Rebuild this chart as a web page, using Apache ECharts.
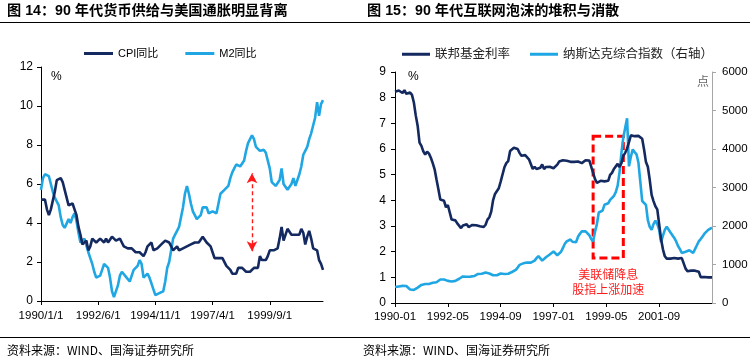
<!DOCTYPE html>
<html>
<head>
<meta charset="utf-8">
<script src="https://cdn.jsdelivr.net/npm/echarts@6/dist/echarts.min.js"></script>
<style>
html,body{margin:0;padding:0;background:#fff;}
#c{width:755px;height:359px;}
</style>
</head>
<body>
<div id="c"></div>
<script>
// ---------- data ----------
function monthLabels(y0, n, style) {
  var out = [];
  for (var i = 0; i < n; i++) {
    var y = y0 + Math.floor(i / 12), m = (i % 12) + 1;
    out.push(style === 'slash' ? (y + '/' + m + '/1') : (y + '-' + (m < 10 ? '0' + m : m)));
  }
  return out;
}
var leftCategories = monthLabels(1990, 144, 'slash');   // 1990/1/1 .. 2001/12/1
var rightCategories = monthLabels(1990, 169, 'dash');   // 1990-01 .. 2004-01

var cpiYoY = [
  5.2,5.3,5.2,4.7,4.4,4.7,4.8,5.6,6.2,6.3,6.3,6.1,
  5.7,5.3,4.9,4.9,5.0,4.7,4.4,3.8,3.4,2.9,3.0,3.1,
  2.6,2.8,3.2,3.2,3.0,3.1,3.2,3.1,3.0,3.2,3.0,2.9,
  3.3,3.2,3.1,3.2,3.2,3.0,2.8,2.8,2.7,2.8,2.7,2.7,
  2.5,2.5,2.5,2.4,2.3,2.5,2.8,2.9,3.0,2.6,2.7,2.7,
  2.8,2.9,2.9,3.1,3.2,3.0,2.8,2.6,2.5,2.8,2.6,2.5,
  2.7,2.7,2.8,2.9,2.9,2.8,3.0,2.9,3.0,3.0,3.3,3.3,
  3.0,3.0,2.8,2.5,2.2,2.3,2.2,2.2,2.2,2.1,1.8,1.7,
  1.6,1.4,1.4,1.4,1.7,1.7,1.7,1.6,1.5,1.5,1.5,1.6,
  1.7,1.6,1.7,2.3,2.1,2.0,2.1,2.3,2.6,2.6,2.6,2.7,
  2.7,3.2,3.8,3.1,3.2,3.7,3.7,3.4,3.5,3.4,3.4,3.4,
  3.7,3.5,2.9,3.3,3.6,3.2,2.7,2.7,2.6,2.1,1.9,1.6
];
var m2YoY = [
  5.7,6.3,6.5,6.5,6.4,6.0,5.6,5.3,5.2,4.9,4.3,3.9,
  3.75,3.8,4.2,4.0,4.3,4.5,4.1,3.5,3.0,3.1,3.2,3.1,
  2.5,2.2,1.9,1.5,1.2,1.15,1.3,1.6,1.9,1.9,1.7,1.2,
  0.5,0.2,0.3,0.8,1.3,1.5,1.4,1.25,1.2,1.0,1.3,1.6,
  1.7,1.8,2.1,1.9,1.2,1.1,1.4,1.2,0.9,0.6,0.3,0.35,
  0.4,0.4,0.5,1.0,1.7,2.0,2.6,3.2,3.4,3.6,3.8,4.3,
  4.8,5.5,5.9,5.5,5.0,4.6,4.4,4.2,4.1,4.4,4.8,4.9,
  4.8,4.5,4.6,4.6,4.5,4.5,5.0,5.5,5.6,5.7,5.6,5.9,
  6.3,6.6,6.8,7.0,7.1,6.9,6.8,7.2,7.7,8.1,8.3,8.5,
  8.3,7.9,7.8,7.7,7.7,7.75,7.6,7.2,6.8,6.1,6.0,5.9,
  5.85,6.2,6.8,6.0,5.9,5.7,5.65,6.0,6.3,5.9,6.0,6.5,
  6.9,7.5,7.7,7.9,8.3,8.6,8.7,9.4,10.2,9.5,10.1,10.3
];
var fedFundsRate = [
  8.23,8.24,8.28,8.26,8.18,8.29,8.15,8.13,8.20,8.11,7.81,7.31,
  6.91,6.25,6.12,5.91,5.78,5.90,5.82,5.66,5.45,5.21,4.81,4.43,
  4.03,4.06,3.98,3.73,3.82,3.76,3.25,3.30,3.22,3.10,3.09,2.92,
  3.02,3.03,3.07,2.96,3.00,3.04,3.06,3.03,3.09,2.99,3.02,2.96,
  3.05,3.25,3.34,3.56,4.01,4.25,4.26,4.47,4.73,4.76,5.29,5.45,
  5.53,5.92,5.98,6.05,6.01,6.00,5.85,5.74,5.80,5.76,5.80,5.60,
  5.56,5.22,5.31,5.22,5.24,5.27,5.40,5.22,5.30,5.24,5.31,5.29,
  5.25,5.19,5.39,5.51,5.50,5.56,5.52,5.54,5.54,5.50,5.52,5.50,
  5.56,5.51,5.49,5.45,5.49,5.56,5.54,5.55,5.51,5.07,4.83,4.68,
  4.63,4.76,4.81,4.74,4.74,4.76,4.99,5.07,5.22,5.20,5.42,5.30,
  5.45,5.73,5.85,6.02,6.27,6.53,6.54,6.50,6.52,6.51,6.51,6.40,
  5.98,5.49,5.31,4.80,4.21,3.97,3.77,3.65,3.07,2.49,2.09,1.82,
  1.73,1.74,1.73,1.75,1.75,1.75,1.73,1.74,1.75,1.75,1.34,1.24,
  1.24,1.26,1.25,1.26,1.26,1.22,1.01,1.03,1.01,1.01,1.00,0.98,
  1.00
];
var nasdaqComposite = [
  415,420,430,425,445,455,440,395,350,320,340,365,
  400,440,470,480,495,490,495,510,525,540,540,560,
  610,625,610,580,575,555,560,570,575,590,630,665,
  690,680,680,665,685,700,700,725,755,770,760,765,
  790,790,765,730,720,710,720,750,765,770,755,740,
  760,785,805,835,860,920,990,1015,1030,1040,1050,1040,
  1050,1085,1100,1165,1220,1200,1100,1120,1190,1230,1260,1280,
  1340,1320,1240,1220,1330,1430,1540,1600,1650,1650,1590,1560,
  1580,1720,1800,1860,1830,1860,1900,1760,1660,1600,1850,2050,
  2350,2330,2400,2550,2530,2590,2680,2700,2780,2880,3050,3400,
  3900,4300,4550,4800,3550,3800,3990,3920,3860,3650,3150,2650,
  2600,2550,2150,1980,1900,2050,2140,2050,1900,1580,1750,1900,
  1980,1950,1830,1780,1690,1600,1480,1400,1300,1250,1330,1380,
  1370,1330,1300,1400,1500,1600,1660,1730,1800,1850,1900,1940,1960
];
var leftYTicks = {min: 0, max: 12, interval: 2};
var rightYLeftTicks = {min: 0, max: 9, interval: 1};
var rightYRightTicks = {min: 0, max: 6000, interval: 1000};
var gapArrow = [{coord: ['1998/12/1', 2.55]}, {coord: ['1998/12/1', 6.55]}];
var cutZone = [{xAxis: '1998-10', yAxis: 6.5}, {xAxis: '2000-02', yAxis: 1.75}];

// ---------- chart ----------
var NAVY = '#13295f', SKY = '#20a7e3', RED = '#ff1a1a';
var FONT = '"Liberation Sans", "Noto Sans CJK SC", sans-serif';
var chart = echarts.init(document.getElementById('c'), null, {renderer: 'canvas'});

function leftIdx(i) { return i % 29 === 0; }
function rightIdx(i) { return i % 28 === 0 && i < 168; }

var option = {
  animation: false,
  backgroundColor: '#fff',
  textStyle: {fontFamily: FONT},
  grid: [
    {left: 41, top: 67, width: 282, height: 234},
    {left: 395, top: 72, width: 317, height: 231}
  ],
  legend: [
    {
      left: 84, top: 48, padding: 0, itemWidth: 29, itemHeight: 3, itemGap: 27, icon: 'rect',
      textStyle: {fontSize: 11, color: '#000', fontFamily: FONT},
      data: ['CPI同比', 'M2同比']
    },
    {
      left: 402, top: 48, padding: 0, itemWidth: 28, itemHeight: 3, itemGap: 20, icon: 'rect',
      textStyle: {fontSize: 12.5, color: '#222', fontFamily: FONT},
      data: ['联邦基金利率', '纳斯达克综合指数（右轴）']
    }
  ],
  xAxis: [
    {
      type: 'category', gridIndex: 0, data: leftCategories, boundaryGap: false,
      axisLine: {lineStyle: {color: '#000', width: 1}},
      axisTick: {show: true, length: 4, interval: function (i) { return leftIdx(i); }, lineStyle: {color: '#000'}},
      axisLabel: {interval: function (i) { return leftIdx(i); }, color: '#000', fontSize: 11.5, margin: 9, fontFamily: FONT},
      splitLine: {show: false}
    },
    {
      type: 'category', gridIndex: 1, data: rightCategories, boundaryGap: false,
      axisLine: {lineStyle: {color: '#000', width: 1}},
      axisTick: {show: true, length: 4, interval: function (i) { return rightIdx(i); }, lineStyle: {color: '#000'}},
      axisLabel: {interval: function (i) { return rightIdx(i); }, color: '#000', fontSize: 11.5, margin: 8, fontFamily: FONT},
      splitLine: {show: false}
    }
  ],
  yAxis: [
    {
      type: 'value', gridIndex: 0, min: leftYTicks.min, max: leftYTicks.max, interval: leftYTicks.interval,
      axisLine: {show: true, lineStyle: {color: '#000'}},
      axisTick: {show: true, length: 4, lineStyle: {color: '#000'}},
      axisLabel: {color: '#000', fontSize: 12, margin: 8, fontFamily: FONT},
      splitLine: {show: false}
    },
    {
      type: 'value', gridIndex: 1, min: rightYLeftTicks.min, max: rightYLeftTicks.max, interval: rightYLeftTicks.interval,
      axisLine: {show: true, lineStyle: {color: '#000'}},
      axisTick: {show: true, length: 4, lineStyle: {color: '#000'}},
      axisLabel: {color: '#000', fontSize: 12, margin: 9, fontFamily: FONT},
      splitLine: {show: false}
    },
    {
      type: 'value', gridIndex: 1, position: 'right', min: rightYRightTicks.min, max: rightYRightTicks.max, interval: rightYRightTicks.interval,
      axisLine: {show: true, lineStyle: {color: '#a6a6a6'}},
      axisTick: {show: true, length: 4, lineStyle: {color: '#a6a6a6'}},
      axisLabel: {color: '#000', fontSize: 11.5, margin: 10, fontFamily: FONT, formatter: function (v) { return String(v); }},
      splitLine: {show: false}
    }
  ],
  series: [
    {
      name: 'CPI同比', type: 'line', xAxisIndex: 0, yAxisIndex: 0, data: cpiYoY,
      showSymbol: false, symbol: 'none', color: NAVY, lineStyle: {color: NAVY, width: 2.6}, z: 3
    },
    {
      name: 'M2同比', type: 'line', xAxisIndex: 0, yAxisIndex: 0, data: m2YoY,
      showSymbol: false, symbol: 'none', color: SKY, lineStyle: {color: SKY, width: 2.6}, z: 2,
      markLine: {
        silent: true, symbol: ['arrow', 'arrow'], symbolSize: [8, 10],
        label: {show: false},
        lineStyle: {color: RED, type: [4, 3], width: 1.4},
        emphasis: {disabled: true},
        data: [gapArrow]
      }
    },
    {
      name: '联邦基金利率', type: 'line', xAxisIndex: 1, yAxisIndex: 1, data: fedFundsRate,
      showSymbol: false, symbol: 'none', color: NAVY, lineStyle: {color: NAVY, width: 2.6}, z: 3,
      markArea: {
        silent: true,
        itemStyle: {color: 'rgba(0,0,0,0)', borderColor: '#ff0000', borderWidth: 3, borderType: [8, 4]},
        label: {
          show: true, position: 'bottom', distance: 7,
          formatter: '美联储降息\n股指上涨加速',
          color: RED, fontSize: 12, lineHeight: 15, fontFamily: '"Noto Sans CJK SC", sans-serif'
        },
        data: [cutZone]
      }
    },
    {
      name: '纳斯达克综合指数（右轴）', type: 'line', xAxisIndex: 1, yAxisIndex: 2, data: nasdaqComposite,
      showSymbol: false, symbol: 'none', color: SKY, lineStyle: {color: SKY, width: 2.6}, z: 2
    }
  ],
  graphic: [
    {type: 'text', left: 7, top: 4, style: {text: '图 14：90 年代货币供给与美国通胀明显背离', font: 'bold 14.2px "Liberation Sans", "Noto Sans CJK SC", sans-serif', fill: '#000'}},
    {type: 'text', left: 367, top: 4, style: {text: '图 15：90 年代互联网泡沫的堆积与消散', font: 'bold 14.2px "Liberation Sans", "Noto Sans CJK SC", sans-serif', fill: '#000'}},
    {type: 'line', shape: {x1: 0, y1: 22.5, x2: 750, y2: 22.5}, style: {stroke: '#000', lineWidth: 1.2}},
    {type: 'line', shape: {x1: 0, y1: 337.5, x2: 750, y2: 337.5}, style: {stroke: '#000', lineWidth: 1.2}},
    {type: 'text', left: 7, top: 344, style: {text: '资料来源：WIND、国海证券研究所', font: '12px "Noto Sans CJK SC", sans-serif', fill: '#000'}},
    {type: 'text', left: 363, top: 344, style: {text: '资料来源：WIND、国海证券研究所', font: '12px "Noto Sans CJK SC", sans-serif', fill: '#000'}},
    {type: 'text', left: 51, top: 71, style: {text: '%', font: '12px "Liberation Sans", sans-serif', fill: '#000'}},
    {type: 'text', left: 408, top: 71, style: {text: '%', font: '12px "Liberation Sans", sans-serif', fill: '#000'}},
    {type: 'text', left: 697, top: 75, style: {text: '点', font: '12px "Noto Sans CJK SC", sans-serif', fill: '#666'}}
  ]
};
chart.setOption(option);
</script>
</body>
</html>
